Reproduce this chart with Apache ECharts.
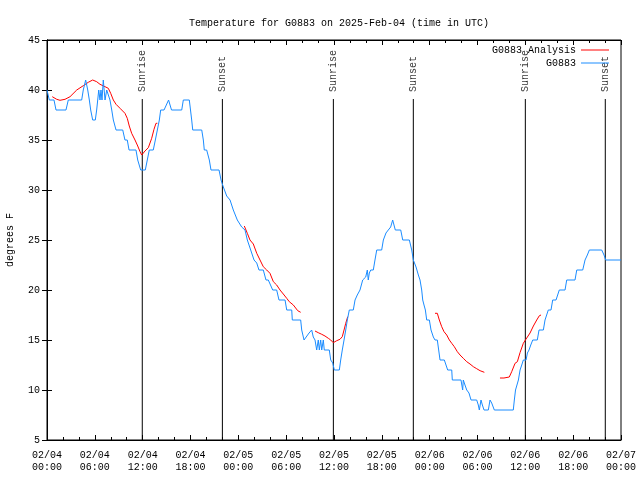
<!DOCTYPE html>
<html>
<head>
<meta charset="utf-8">
<script src="https://cdn.jsdelivr.net/npm/echarts@6/dist/echarts.min.js"></script>
<style>html,body{margin:0;padding:0;background:#fff}#c{width:640px;height:480px}</style>
</head>
<body>
<div id="c"></div>
<script>
// X tick labels (every 6 hours from 02/04 00:00 UTC)
const tickLabels = ['02/04\n00:00','02/04\n06:00','02/04\n12:00','02/04\n18:00',
  '02/05\n00:00','02/05\n06:00','02/05\n12:00','02/05\n18:00',
  '02/06\n00:00','02/06\n06:00','02/06\n12:00','02/06\n18:00','02/07\n00:00'];

// Observations G0883: hours since 02/04 00:00 UTC, temperature F
const obsHours = [0,0.29,0.88,1.13,2.38,2.67,4.35,4.55,4.85,5.11,5.31,5.48,5.73,6.06,6.23,6.36,6.49,6.65,6.77,6.90,7.06,7.28,7.49,7.69,7.90,8.12,8.32,8.66,9.50,9.78,10.07,10.29,11.16,11.38,11.75,12.33,12.58,12.83,13.33,13.59,13.84,14.09,14.26,14.68,15.25,15.62,16.90,17.10,17.85,18.00,18.15,18.28,19.41,19.61,19.73,20.03,20.36,20.57,21.58,21.83,22.12,22.54,22.96,23.37,23.87,24.42,24.84,25.13,25.55,25.97,26.31,26.59,27.13,27.47,27.76,28.31,28.81,29.10,29.86,30.07,30.70,30.77,31.82,31.95,32.24,32.49,32.87,33.20,33.40,33.62,33.83,34.03,34.16,34.33,34.46,34.66,34.78,35.41,35.59,35.84,36.04,36.67,36.84,37.04,37.26,37.47,37.67,37.92,38.42,38.64,38.92,39.26,39.60,39.98,40.18,40.30,40.43,40.61,40.93,41.14,41.36,41.98,42.19,42.52,42.81,43.11,43.36,43.53,43.69,44.37,44.62,45.45,45.75,45.95,46.29,46.58,46.79,47.00,47.13,47.29,47.46,47.63,47.96,48.17,48.46,48.67,48.96,49.13,49.30,49.84,50.05,50.26,50.77,50.84,51.93,52.14,52.22,52.43,52.65,52.93,53.19,53.90,54.10,54.23,54.44,54.61,54.82,55.36,55.57,55.78,56.11,58.49,58.62,58.77,59.00,59.13,59.34,59.55,59.75,60.09,60.26,60.46,60.68,60.93,61.50,61.72,62.26,62.47,62.68,62.88,63.22,63.43,63.85,64.26,64.98,65.19,66.23,66.45,67.20,67.49,67.78,68.03,69.58,69.87,70.08,72];
const obsTemps = [40,39,39,38,38,39,39,40,41,40,39,38,37,37,38,39,40,39,40,39,41,39,40,40,39,38,37,36,36,35,35,34,34,33,32,32,33,34,34,35,36,37,38,38,39,38,38,39,39,38,37,36,36,35,34,34,33,32,32,31,30.3,29.4,29,28,27,26.3,26,25,24,23,22.7,22,22,21,21,20,20,19,19,18,18,17,17,16,15,15,15.7,16,15.3,15,14,15,14,15,14,15,14,14,13,12.7,12,12,13,14,15,16,17,18,18,19,19.5,20,21,21.3,22,21,21.7,22,22,23,24,24,25,25.7,26,26.3,27,27,26,26,25,25,24,23,22.3,21.5,21,20,19,18.5,18,17,17,16,15.3,15,15,14,13,13,12.5,12,12,11,11,10,11,10.5,10,9.7,9,9,8.5,8,9,8.5,8,8,9,8.7,8,8,9,10,10,11,12,12.5,13,13,13.7,14,14.5,15,15,16,16,17,17,18,18,19,19,20,20,21,21,22,22,23,23.5,24,24,23.5,23,23];

// Analysis G0883 (null separates segments)
const anaHours = [0.66,1.22,1.63,2.26,2.89,3.73,4.55,5.18,5.73,6.23,6.65,7.28,7.69,7.99,8.32,8.66,9.16,9.78,10.07,10.32,10.62,11.04,11.38,11.67,11.88,12.29,12.71,13.13,13.42,13.67,13.84,null,
  24.75,25.13,25.46,25.88,26.31,26.72,27.13,27.56,27.97,28.39,28.81,29.23,29.64,30.07,30.39,30.90,31.45,31.82,null,
  33.62,34.03,34.46,34.87,35.29,35.59,35.91,36.34,36.75,37.04,37.26,37.47,37.72,null,
  48.67,48.96,49.21,49.51,49.80,50.14,50.47,50.77,51.09,51.47,51.81,52.22,52.65,53.06,53.48,53.90,54.32,54.86,null,
  56.82,57.32,57.45,57.99,58.29,58.71,59.00,59.34,59.75,60.09,60.59,61.01,61.43,61.76,61.97];
const anaTemps = [39.33,39.07,38.97,39.07,39.33,40.0,40.43,40.77,41.0,40.83,40.57,40.33,40.17,39.67,39.0,38.57,38.17,37.67,37.17,36.4,35.67,35.0,34.4,33.83,33.5,33.9,34.23,35.17,36.07,36.67,36.67,null,
  26.4,25.67,25.0,24.6,23.67,23.0,22.33,22.0,21.67,20.83,20.5,20.0,19.6,19.17,18.83,18.5,17.93,17.77,null,
  15.9,15.73,15.57,15.4,15.17,15.0,14.73,14.93,15.07,15.33,16.0,16.67,17.33,null,
  17.67,17.67,17.0,16.33,15.83,15.5,15.0,14.67,14.33,13.83,13.5,13.17,12.83,12.6,12.33,12.13,11.93,11.77,null,
  11.2,11.2,11.3,11.3,11.83,12.67,12.83,13.75,14.67,15.1,15.7,16.4,17.0,17.43,17.5];

// Sunrise / sunset markers
const sunHours = [11.95, 22.0, 35.92, 45.95, 60.0, 70.03];
const sunNames = ['Sunrise','Sunset','Sunrise','Sunset','Sunrise','Sunset'];
const sunLineTop = 39.1;
const sunLabelAt = 39.8;

const FONT = 'Liberation Mono';
const chart = echarts.init(document.getElementById('c'), null, {renderer:'canvas'});

const sunLines = [];
sunHours.forEach(function(h, i){
  if (i > 0) sunLines.push([null, null]);
  sunLines.push([h, 5]);
  sunLines.push([h, sunLineTop]);
});

const axisCommon = {
  axisLine: {show: true, lineStyle: {color: '#000', width: 1}},
  splitLine: {show: false}
};

chart.setOption({
  animation: false,
  backgroundColor: '#fff',
  title: {
    text: 'Temperature for G0883 on 2025-Feb-04 (time in UTC)',
    left: 334, top: 13, textAlign: 'center',
    textStyle: {fontFamily: FONT, fontSize: 10, fontWeight: 'normal', color: '#000'}
  },
  legend: {
    data: ['G0883 Analysis', 'G0883'],
    orient: 'vertical', align: 'right',
    right: 31, top: 44, padding: 0,
    itemWidth: 28, itemHeight: 1, itemGap: 1,
    icon: 'rect',
    textStyle: {fontFamily: FONT, fontSize: 10, color: '#000', lineHeight: 12}
  },
  grid: {left: 47, right: 19, top: 40, bottom: 40, containLabel: false, outerBoundsMode: 'none',
    show: true, borderColor: '#000', borderWidth: 1, backgroundColor: 'transparent'},
  xAxis: [
    Object.assign({}, axisCommon, {
      type: 'value', min: 0, max: 72, interval: 6, position: 'bottom',
      axisTick: {show: true, inside: true, length: 5, lineStyle: {color: '#000'}},
      minorTick: {show: true, splitNumber: 3, length: 3, lineStyle: {color: '#000'}},
      axisLabel: {margin: 9, fontFamily: FONT, fontSize: 10, color: '#000', lineHeight: 12,
        formatter: function(v){ return tickLabels[Math.round(v/6)] || ''; }}
    }),
    Object.assign({}, axisCommon, {
      type: 'value', min: 0, max: 72, interval: 6, position: 'top',
      axisTick: {show: true, inside: true, length: 5, lineStyle: {color: '#000'}},
      minorTick: {show: true, splitNumber: 3, length: 3, lineStyle: {color: '#000'}},
      axisLabel: {show: false}
    })
  ],
  yAxis: [
    Object.assign({}, axisCommon, {
      type: 'value', min: 5, max: 45, interval: 5, position: 'left',
      name: 'degrees F', nameLocation: 'middle', nameGap: 32, nameRotate: 90,
      nameTextStyle: {fontFamily: FONT, fontSize: 10, color: '#000'},
      axisTick: {show: true, inside: true, length: 5, lineStyle: {color: '#000'}},
      axisLabel: {margin: 7, fontFamily: FONT, fontSize: 10, color: '#000'}
    }),
    Object.assign({}, axisCommon, {
      type: 'value', min: 5, max: 45, interval: 5, position: 'right',
      axisTick: {show: true, inside: true, length: 5, lineStyle: {color: '#000'}},
      axisLabel: {show: false}
    })
  ],
  series: [
    {
      name: 'sunlines', type: 'line', data: sunLines, symbol: 'none', connectNulls: false,
      lineStyle: {color: '#000', width: 1}, silent: true, z: 1
    },
    {
      name: 'sunlabels', type: 'scatter', symbolSize: 0, silent: true, z: 1,
      data: sunHours.map(function(h, i){ return {value: [h, sunLabelAt], name: sunNames[i]}; }),
      label: {show: true, position: 'inside', rotate: 90, align: 'left', verticalAlign: 'middle',
        formatter: function(p){ return p.name; },
        fontFamily: FONT, fontSize: 10, color: '#000'}
    },
    {
      name: 'G0883 Analysis', type: 'line', symbol: 'none', connectNulls: false, z: 2,
      data: anaHours.map(function(h, i){ return h === null ? [null, null] : [h, anaTemps[i]]; }),
      color: '#ff0000', lineStyle: {color: '#ff0000', width: 1}
    },
    {
      name: 'G0883', type: 'line', symbol: 'none', z: 3,
      data: obsHours.map(function(h, i){ return [h, obsTemps[i]]; }),
      color: '#1a8cff', lineStyle: {color: '#1a8cff', width: 1}
    }
  ]
});
</script>
</body>
</html>
